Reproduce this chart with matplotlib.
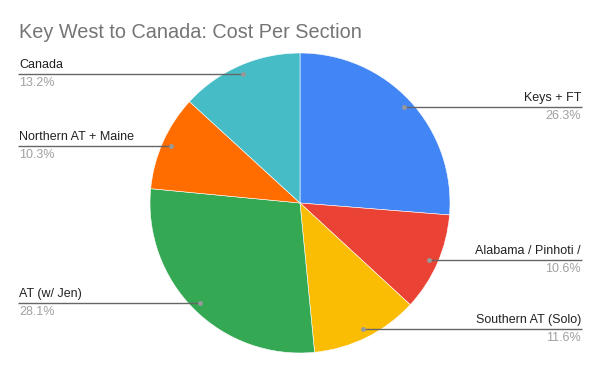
import numpy as np
import matplotlib.pyplot as plt

plt.rcParams['font.family'] = ['Liberation Sans', 'DejaVu Sans']

# data
labels = ['Keys + FT', 'Alabama / Pinhoti /', 'Southern AT (Solo)', 'AT (w/ Jen)',
          'Northern AT + Maine', 'Canada']
values = [26.3, 10.6, 11.6, 28.1, 10.3, 13.2]
colors = ['#4285F4', '#EA4335', '#FBBC04', '#34A853', '#FF6D01', '#46BDC6']

W, H = 600, 371
cx, cy, R = 300, H - 203, 150

fig = plt.figure(figsize=(6, 3.71), dpi=100)
ax = fig.add_axes([0, 0, 1, 1])
ax.pie(values, colors=colors, startangle=90, counterclock=False,
       center=(cx, cy), radius=R, wedgeprops=dict(linewidth=0.4, edgecolor='white'))
ax.set_xlim(0, W)
ax.set_ylim(0, H)
ax.set_aspect('equal')
ax.axis('off')

# leader lines and labels
total = sum(values)
cum = 0
for lab, v in zip(labels, values):
    mid = (cum + v / 2) / total
    cum += v
    th = np.deg2rad(90 - 360 * mid)
    dx = cx + 0.94 * R * np.cos(th)
    dy = cy + 0.94 * R * np.sin(th)
    pct = '%.1f%%' % (v / total * 100)
    if np.cos(th) > 0:
        x0, x1, ha, tx = dx, 582, 'right', 581
    else:
        x0, x1, ha, tx = 18, dx, 'left', 19
    ax.plot([x0, x1], [dy, dy], color='#666666', lw=1, solid_capstyle='butt')
    ax.plot(dx, dy, 'o', color='#999999', ms=3.5, mec='none')
    ax.text(tx, dy + 3, lab, ha=ha, va='bottom', fontsize=9, color='#222222')
    ax.text(tx, dy - 3, pct, ha=ha, va='top', fontsize=9, color='#a0a0a0')

ax.text(19, H - 38, 'Key West to Canada: Cost Per Section', ha='left', va='baseline',
        fontsize=14.3, color='#757575')

plt.savefig('out.png', dpi=100)
